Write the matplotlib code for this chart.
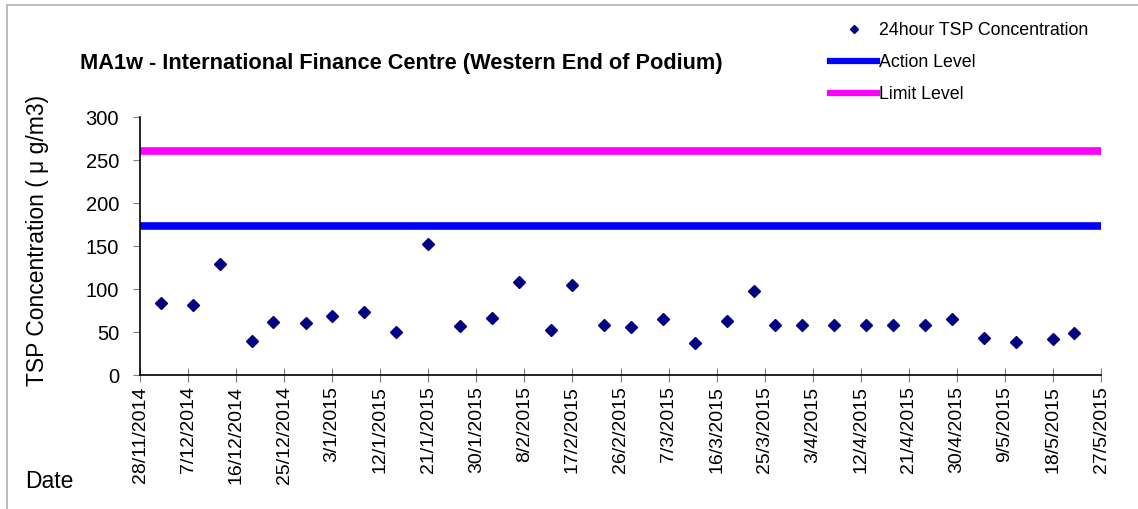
import matplotlib
matplotlib.use("Agg")
import matplotlib.pyplot as plt
from matplotlib.lines import Line2D
from matplotlib.patches import Rectangle
import pandas as pd

plt.rcParams['font.family'] = ['Liberation Sans', 'DejaVu Sans']

# 24-hour TSP readings
dates = ["2/12/2014", "8/12/2014", "13/12/2014", "19/12/2014", "23/12/2014", "29/12/2014",
         "3/1/2015", "9/1/2015", "15/1/2015", "21/1/2015", "27/1/2015", "2/2/2015",
         "7/2/2015", "13/2/2015", "17/2/2015", "23/2/2015", "28/2/2015", "6/3/2015",
         "12/3/2015", "18/3/2015", "23/3/2015", "27/3/2015", "1/4/2015", "7/4/2015",
         "13/4/2015", "18/4/2015", "24/4/2015", "29/4/2015", "5/5/2015", "11/5/2015",
         "18/5/2015", "22/5/2015"]
tsp = [84, 82, 129, 40, 62, 61,
       69, 74, 50, 153, 57, 66,
       108, 53, 105, 59, 56, 65,
       38, 63, 98, 59, 58, 58,
       58, 58, 58, 65, 43, 39,
       42, 49]
action_level = 173
limit_level = 260
x_start = "28/11/2014"
x_end = "27/5/2015"

d = pd.to_datetime(dates, dayfirst=True)
start = pd.to_datetime(x_start, dayfirst=True)
end = pd.to_datetime(x_end, dayfirst=True)
ticks = pd.date_range(start, end, freq="9D")

fig = plt.figure(figsize=(11.38, 5.09), dpi=100)
fig.patches.append(Rectangle((7 / 1138, -0.1), 1.2, 1 - 5 / 509 + 0.1, transform=fig.transFigure,
                             fill=False, edgecolor="#b0b0b0", lw=1.2))
ax = fig.add_axes([140 / 1138, 1 - 375.3 / 509, 961 / 1138, 258.3 / 509])

ax.axhline(limit_level, color="#ff00ff", lw=5.5, zorder=2)
ax.axhline(action_level, color="#0000ff", lw=5.5, zorder=2)
ax.plot(d, tsp, linestyle="none", marker="D", ms=6, color="#000080", zorder=3)

ax.set_xlim(start, end)
ax.set_ylim(0, 300)
ax.set_yticks(range(0, 301, 50))
ax.set_xticks(ticks)
ax.set_xticklabels([f"{t.day}/{t.month}/{t.year}" for t in ticks], rotation=90, fontsize=14)
ax.tick_params(axis="y", labelsize=14.5, direction="out", length=5, color="#808080", pad=10)
ax.tick_params(axis="x", direction="inout", length=10, color="#808080", pad=3)
for s in ["top", "right"]:
    ax.spines[s].set_visible(False)
for s in ["left", "bottom"]:
    ax.spines[s].set_linewidth(1.2)

fig.text(80 / 1138, 1 - 63 / 509, "MA1w - International Finance Centre (Western End of Podium)",
         fontsize=15.7, fontweight="bold", va="center", ha="left")
fig.text(38 / 1138, 1 - 240 / 509, "TSP Concentration ( μ g/m3)", rotation=90,
         fontsize=16.5, va="center", ha="center")
fig.text(25 / 1138, 1 - 481 / 509, "Date", fontsize=16.5, va="center", ha="left")

handles = [Line2D([], [], linestyle="none", marker="D", ms=4.5, color="#000080"),
           Line2D([], [], color="#0000ff", lw=4.5),
           Line2D([], [], color="#ff00ff", lw=4.5)]
fig.legend(handles, ["24hour TSP Concentration", "Action Level", "Limit Level"],
           loc="upper left", bbox_to_anchor=(830 / 1138, 1 - 22 / 509), frameon=False,
           fontsize=12.8, handlelength=2.65, handletextpad=0.1, labelspacing=0.85,
           borderaxespad=0, borderpad=0)

fig.savefig("out.png", dpi=100)
